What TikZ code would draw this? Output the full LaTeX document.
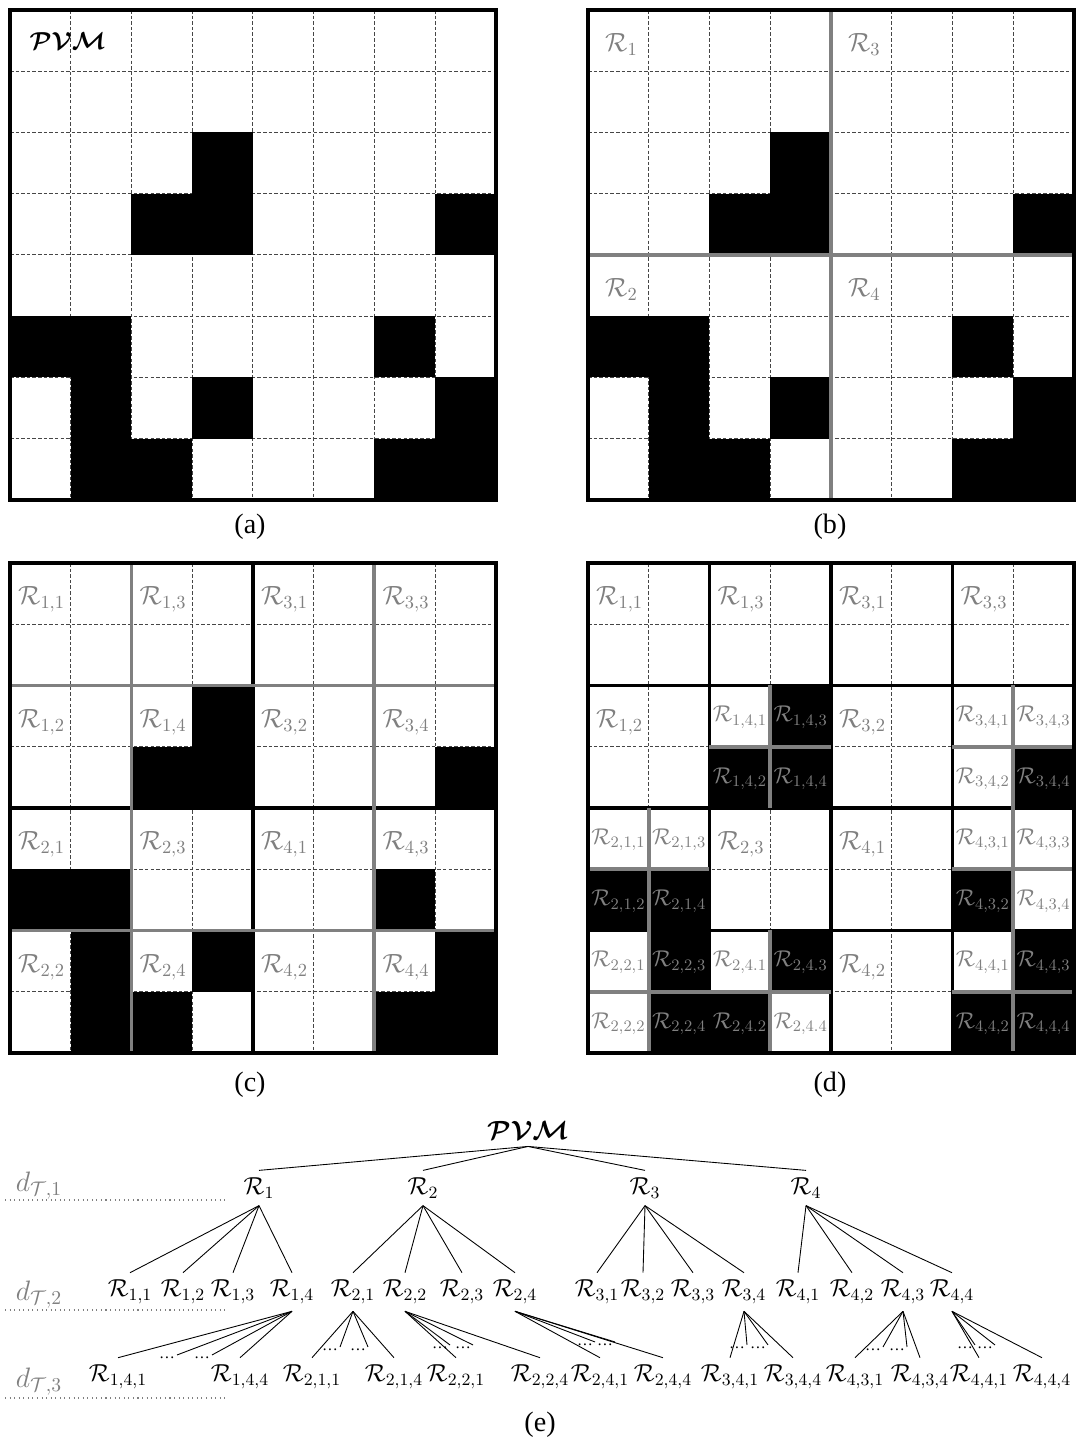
\documentclass[tikz,border=0pt]{standalone}
\usepackage{fix-cm}
\usepackage{amsmath,bm}
\usepackage{fontspec}
\setmainfont{Liberation Serif}
\usetikzlibrary{positioning}
\definecolor{regiongray}{RGB}{128,128,128}
\definecolor{dashgray}{RGB}{70,70,70}

% dashed cells and occupied cells of one map
\newcommand{\pvmcells}{%
  \foreach \k in {1,...,7} {
    \draw[cellgrid] (\k,0) -- (\k,8);
    \draw[cellgrid] (0,\k) -- (8,\k);
  }
  \foreach \c/\r in {3/2, 2/3, 3/3, 7/3, 0/5, 1/5, 6/5, 1/6, 3/6, 7/6, 1/7, 2/7, 6/7, 7/7}
    \fill (\c,\r) rectangle ++(1,1);
}

\begin{document}
\begin{tikzpicture}[
    x=0.02cm, y=-0.02cm,
    cellgrid/.style={dashgray, line width=0.6pt, dash pattern=on 2pt off 1.2pt},
    frame/.style={line width=2.3pt},
    graysplit/.style={regiongray, line width=2.2pt},
    blacksplit/.style={black, line width=2.2pt},
    reglabel/.style={regiongray, inner sep=1pt, font=\fontsize{15}{17}\selectfont},
    sublabel/.style={regiongray, inner sep=0pt, font=\fontsize{13}{15}\selectfont},
    treenode/.style={inner xsep=1pt, inner ysep=4pt, font=\fontsize{14}{16}\selectfont},
    dotsnode/.style={inner sep=1pt, font=\fontsize{9}{10}\selectfont},
    treeedge/.style={line width=0.5pt},
    levellabel/.style={regiongray, font=\fontsize{16}{18}\selectfont},
    levelline/.style={regiongray, line width=0.6pt, dotted},
    caption/.style={font=\fontsize{16}{18}\selectfont}
  ]
  \useasboundingbox (0,0) rectangle (1076,1440);

  % (a) the whole map
  \begin{scope}[shift={(10,10)}, x=1.215cm, y=-1.225cm]
    \pvmcells
    \draw[frame] (0,0) rectangle (8,8);
    \node[font=\fontsize{14}{16}\selectfont] (pvma) at (0.95,0.5) {$\bm{\mathcal{PVM}}$};
  \end{scope}
  \node[caption] (capa) at (250,527) {(a)};

  % (b) first split
  \begin{scope}[shift={(588,10)}, x=1.215cm, y=-1.225cm]
    \pvmcells
    \draw[graysplit] (4,0) -- (4,8);
    \draw[graysplit] (0,4) -- (8,4);
    \draw[frame] (0,0) rectangle (8,8);
    \foreach \i/\qx/\qy in {1/0/0, 2/0/4, 3/4/0, 4/4/4}
      \node[reglabel] (b-\i) at (\qx+0.55,\qy+0.57) {$\mathcal{R}_{\i}$};
  \end{scope}
  \node[caption] (capb) at (830,527) {(b)};

  % (c) second split
  \begin{scope}[shift={(10,563)}, x=1.215cm, y=-1.225cm]
    \pvmcells
    \draw[blacksplit] (4,0) -- (4,8);
    \draw[blacksplit] (0,4) -- (8,4);
    \foreach \k in {2,6} {
      \draw[graysplit] (\k,0) -- (\k,8);
      \draw[graysplit] (0,\k) -- (8,\k);
    }
    \draw[frame] (0,0) rectangle (8,8);
    \foreach \i/\qx/\qy in {1/0/0, 2/0/4, 3/4/0, 4/4/4}
      \foreach \j/\sx/\sy in {1/0/0, 2/0/2, 3/2/0, 4/2/2}
        \node[reglabel] (c-\i-\j) at (\qx+\sx+0.52,\qy+\sy+0.6) {$\mathcal{R}_{\i,\j}$};
  \end{scope}
  \node[caption] (capc) at (250,1085) {(c)};

  % (d) third split of the mixed regions
  \begin{scope}[shift={(588,563)}, x=1.215cm, y=-1.225cm]
    \pvmcells
    \foreach \k in {2,4,6} {
      \draw[blacksplit] (\k,0) -- (\k,8);
      \draw[blacksplit] (0,\k) -- (8,\k);
    }
    \foreach \i/\j/\cx/\cy in {1/1/0/0, 1/2/0/2, 1/3/2/0, 3/1/4/0, 3/2/4/2, 3/3/6/0, 2/3/2/4, 4/1/4/4, 4/2/4/6}
      \node[reglabel] (d-\i-\j) at (\cx+0.52,\cy+0.6) {$\mathcal{R}_{\i,\j}$};
    \foreach \i/\j/\cx/\cy in {1/4/2/2, 3/4/6/2, 2/1/0/4, 2/2/0/6, 4/3/6/4, 4/4/6/6} {
      \draw[graysplit] (\cx+1,\cy) -- (\cx+1,\cy+2);
      \draw[graysplit] (\cx,\cy+1) -- (\cx+2,\cy+1);
      \foreach \k/\dx/\dy in {1/0/0, 2/0/1, 3/1/0, 4/1/1}
        \node[sublabel] (d-\i-\j-\k) at (\cx+\dx+0.5,\cy+\dy+0.52) {$\mathcal{R}_{\i,\j,\k}$};
    }
    \draw[graysplit] (3,6) -- (3,8);
    \draw[graysplit] (2,7) -- (4,7);
    \foreach \k/\dx/\dy in {1/0/0, 2/0/1, 3/1/0, 4/1/1}
      \node[sublabel] (d-2-4-\k) at (2+\dx+0.5,6+\dy+0.52) {$\mathcal{R}_{2,4.\k}$};
    \draw[frame] (0,0) rectangle (8,8);
  \end{scope}
  \node[caption] (capd) at (830,1085) {(d)};

  % (e) the tree
  \node[levellabel] (lvl1) at (39,1186) {$d_{\mathcal{T},1}$};
  \node[levellabel] (lvl2) at (39,1295) {$d_{\mathcal{T},2}$};
  \node[levellabel] (lvl3) at (39,1382) {$d_{\mathcal{T},3}$};
  \draw[levelline] (5,1200) -- (225,1200);
  \draw[levelline] (5,1310) -- (225,1310);
  \draw[levelline] (5,1398) -- (225,1398);

  \node[treenode, font=\fontsize{15}{17}\selectfont] (pvm) at (528,1130) {$\bm{\mathcal{PVM}}$};
  \foreach \i/\x in {1/259, 2/423, 3/645, 4/806} {
    \node[treenode] (t\i) at (\x,1188) {$\mathcal{R}_{\i}$};
    \draw[treeedge] (pvm.south) -- (t\i.north);
  }
  \foreach \i/\j/\x in {1/1/130, 1/2/183, 1/3/233, 1/4/292, 2/1/353, 2/2/405, 2/3/462, 2/4/515,
                        3/1/597, 3/2/643, 3/3/693, 3/4/744, 4/1/798, 4/2/852, 4/3/903, 4/4/952} {
    \node[treenode] (t\i\j) at (\x,1292) {$\mathcal{R}_{\i,\j}$};
    \draw[treeedge] (t\i.south) -- (t\i\j.north);
  }
  \foreach \i/\j/\xa/\xb/\da/\db/\dy in {1/4/118/240/167/202/1358, 2/1/312/394/330/358/1350,
      2/2/456/540/440/463/1348, 2/4/600/663/585/605/1345, 3/4/730/793/737/758/1348,
      4/3/855/920/873/897/1350, 4/4/979/1042/965/985/1348} {
    \node[treenode] (t\i\j1) at (\xa,1377) {$\mathcal{R}_{\i,\j,1}$};
    \node[treenode] (t\i\j4) at (\xb,1377) {$\mathcal{R}_{\i,\j,4}$};
    \node[dotsnode] (t\i\j a) at (\da,\dy) {\dots};
    \node[dotsnode] (t\i\j b) at (\db,\dy) {\dots};
    \draw[treeedge] (t\i\j.south) -- (t\i\j1.north);
    \draw[treeedge] (t\i\j.south) -- (t\i\j a.north east);
    \draw[treeedge] (t\i\j.south) -- (t\i\j b.north east);
    \draw[treeedge] (t\i\j.south) -- (t\i\j4.north);
  }
  \node[caption] (cape) at (540,1425) {(e)};
\end{tikzpicture}
\end{document}
